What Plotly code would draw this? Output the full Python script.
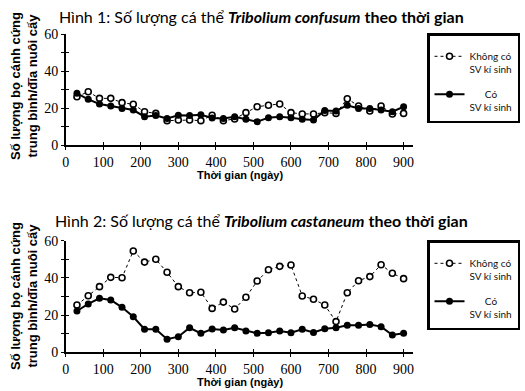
import plotly.graph_objects as go

days = [30, 60, 90, 120, 150, 180, 210, 240, 270, 300, 330, 360, 390, 420, 450,
        480, 510, 540, 570, 600, 630, 660, 690, 720, 750, 780, 810, 840, 870, 900]

# Hình 1: Tribolium confusum
conf_no_parasite = [26.2, 28.9, 25.3, 25.3, 23.0, 22.1, 18.1, 17.2, 13.3, 13.6,
                    13.6, 13.3, 16.2, 13.3, 14.2, 17.6, 20.8, 21.6, 22.3, 17.6,
                    16.9, 16.9, 17.6, 17.2, 25.1, 21.2, 18.5, 21.2, 16.9, 17.2]
conf_parasite = [28.0, 24.8, 22.3, 21.2, 19.9, 19.0, 15.4, 16.0, 14.5, 16.2,
                 16.0, 16.5, 14.7, 14.5, 15.4, 14.0, 12.7, 14.9, 15.4, 14.9,
                 14.0, 13.6, 18.8, 18.5, 21.6, 19.9, 19.9, 19.0, 18.1, 20.8]

# Hình 2: Tribolium castaneum
cast_no_parasite = [25.4, 30.4, 35.3, 40.3, 40.1, 54.5, 48.5, 50.0, 43.0, 35.3,
                    32.0, 32.3, 23.6, 27.0, 23.3, 29.6, 38.3, 44.4, 46.2, 46.9,
                    30.3, 28.5, 25.4, 16.5, 32.0, 38.5, 40.7, 47.1, 42.5, 39.6]
cast_parasite = [22.2, 26.0, 29.0, 28.1, 24.2, 19.1, 12.4, 12.4, 7.0, 8.4,
                 13.2, 10.2, 12.5, 12.0, 13.2, 11.5, 10.2, 10.5, 11.5, 10.5,
                 12.4, 10.7, 12.7, 13.2, 14.5, 14.5, 15.0, 13.8, 9.3, 10.2]

x_ticks = [0, 100, 200, 300, 400, 500, 600, 700, 800, 900]
y_ticks = [0, 20, 40, 60]

title1 = "Hình 1: Số lượng cá thể <i><b>Tribolium confusum</b></i> <b>theo thời gian</b>"
title2 = "Hình 2: Số lượng cá thể <i><b>Tribolium castaneum</b></i> <b>theo thời gian</b>"
y_title = "<b>Số lượng bọ cánh cứng<br>trung bình/đĩa nuôi cấy</b>"
x_title = "<b>Thời gian (ngày)</b>"
name_no = "Không có<br>SV kí sinh"
name_yes = "\u00a0\u00a0\u00a0\u00a0\u00a0\u00a0Có<br>SV kí sinh"

TITLE = "Lato"
LEG = "Lato"
NARROW = "Liberation Sans Narrow, Liberation Sans, Arial"
SERIF = "Liberation Serif, DejaVu Serif, serif"

fig = go.Figure()

def add_pair(no_vals, yes_vals, xa, ya, legend):
    fig.add_trace(go.Scatter(
        x=days, y=no_vals, xaxis=xa, yaxis=ya, name=name_no, legend=legend,
        mode="lines+markers", cliponaxis=False,
        line=dict(color="black", width=1, dash="3px,3px"),
        marker=dict(symbol="circle", size=6, color="white",
                    line=dict(color="black", width=1.6)),
        legendgroup=legend + "a"))
    fig.add_trace(go.Scatter(
        x=days, y=yes_vals, xaxis=xa, yaxis=ya, name=name_yes, legend=legend,
        mode="lines+markers", cliponaxis=False,
        line=dict(color="black", width=2),
        marker=dict(symbol="circle", size=7, color="black"),
        legendgroup=legend + "b"))

add_pair(conf_no_parasite, conf_parasite, "x", "y", "legend")
add_pair(cast_no_parasite, cast_parasite, "x2", "y2", "legend2")

dom1 = [1 - 145.3 / 391, 1 - 34 / 391]
dom2 = [1 - 352.3 / 391, 1 - 240.7 / 391]
xdom = [65.7 / 525, 413 / 525]
xr = [0, 925]
yr = [0, 60]

tickfont = dict(family=SERIF, size=14, color="black")

def xaxis(anchor, inside=False, overlay=None):
    d = dict(domain=xdom, range=xr, anchor=anchor, showgrid=False, zeroline=False,
             tickvals=x_ticks, ticklen=3, tickwidth=1.2, tickcolor="black",
             fixedrange=True, automargin=False)
    if inside:
        d.update(ticks="inside", showticklabels=False, showline=False,
                 overlaying=overlay)
    else:
        d.update(ticks="outside", showline=True, linecolor="black", linewidth=2,
                 tickfont=tickfont)
    return d

def yaxis(anchor, dom, inside=False, overlay=None):
    d = dict(domain=dom, range=yr, anchor=anchor, showgrid=False, zeroline=False,
             tickmode="linear", tick0=0, dtick=10, ticklen=3, tickwidth=1.2,
             tickcolor="black", fixedrange=True, automargin=False)
    if inside:
        d.update(ticks="inside", showticklabels=False, showline=False,
                 overlaying=overlay)
    else:
        d.update(ticks="outside", showline=True, linecolor="black", linewidth=1.5,
                 tickfont=tickfont, labelalias={10: " ", 30: " ", 50: " "})
    return d

legend_common = dict(
    xanchor="left", yanchor="top", x=427 / 525,
    bgcolor="white", bordercolor="black", borderwidth=2.5,
    font=dict(family=LEG, size=10, color="#111"),
    valign="top", tracegroupgap=9, itemwidth=30,
    title=dict(text=" ", font=dict(size=6)),
)

fig.update_layout(
    width=525, height=391,
    margin=dict(l=0, r=0, t=0, b=0, autoexpand=False),
    paper_bgcolor="white", plot_bgcolor="white",
    showlegend=True,
    xaxis=xaxis("y"),
    yaxis=yaxis("x", dom1),
    xaxis2=xaxis("y2"),
    yaxis2=yaxis("x2", dom2),
    xaxis3=xaxis("y3", inside=True, overlay="x"),
    yaxis3=yaxis("x3", dom1, inside=True, overlay="y"),
    xaxis4=xaxis("y4", inside=True, overlay="x2"),
    yaxis4=yaxis("x4", dom2, inside=True, overlay="y2"),
    legend=dict(y=1 - 33 / 391, **legend_common),
    legend2=dict(y=1 - 240 / 391, **legend_common),
)

# invisible traces so overlay axes render their inside ticks
for xa, ya in (("x3", "y3"), ("x4", "y4")):
    fig.add_trace(go.Scatter(x=[None], y=[None], xaxis=xa, yaxis=ya,
                             showlegend=False, hoverinfo="skip"))

ann = []
for t, ypx in ((title1, 17), (title2, 220)):
    ann.append(dict(text=t, x=261 / 525, y=1 - ypx / 391, xref="paper", yref="paper",
                    xanchor="center", yanchor="middle", showarrow=False,
                    font=dict(family=TITLE, size=16, color="black")))
for ypx in (86, 296):
    ann.append(dict(text=y_title, x=24 / 525, y=1 - ypx / 391, xref="paper",
                    yref="paper", xanchor="center", yanchor="middle",
                    showarrow=False, textangle=-90,
                    font=dict(family=NARROW, size=13, color="black")))
for ypx in (175, 382):
    ann.append(dict(text=x_title, x=240 / 525, y=1 - ypx / 391, xref="paper",
                    yref="paper", xanchor="center", yanchor="middle",
                    showarrow=False,
                    font=dict(family=NARROW, size=11, color="black")))
fig.update_layout(annotations=ann)

fig.write_html("out.html",
               config={"displayModeBar": False},
               post_script="document.body.style.margin='0';"
                           "document.body.style.overflow='hidden';")
